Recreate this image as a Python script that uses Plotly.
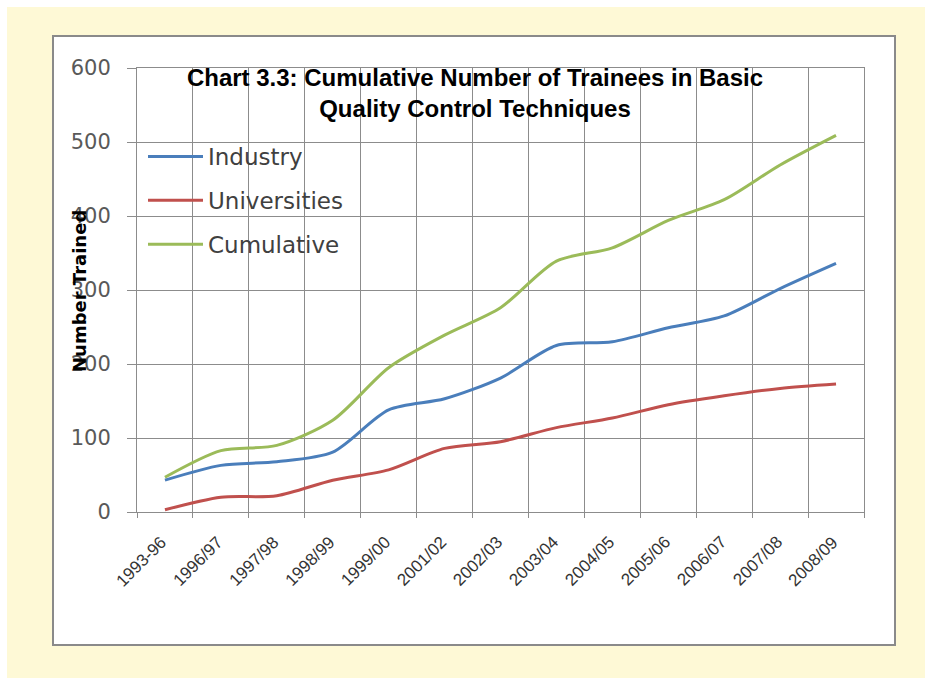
import plotly.graph_objects as go

# Financial years on the category axis
years = ["1993-96", "1996/97", "1997/98", "1998/99", "1999/00", "2001/02",
         "2002/03", "2003/04", "2004/05", "2005/06", "2006/07", "2007/08", "2008/09"]

# Cumulative number of trainees per group
industry = [43, 63, 68, 81, 138, 153, 181, 225, 230, 249, 265, 302, 336]
universities = [3, 20, 22, 43, 57, 86, 95, 114, 127, 145, 157, 167, 173]
cumulative = [47, 83, 90, 124, 195, 239, 276, 339, 357, 394, 422, 469, 509]

y_ticks = [0, 100, 200, 300, 400, 500, 600]

series = [
    ("Industry", industry, "#4A7EBB"),
    ("Universities", universities, "#C0504D"),
    ("Cumulative", cumulative, "#9BBB59"),
]

W, H = 925, 678
L, R, T, B = 137, 61, 68, 166
pw, ph = W - L - R, H - T - B


def px_x(x):
    return (x - L) / pw


def px_y(y):
    return (H - B - y) / ph


n = len(years)
pos = list(range(n))
x_range = [-0.5, n - 0.5]
# vertical grid sits between categories
boundaries = [i - 0.5 for i in range(n + 1)]

fig = go.Figure()
for name, vals, color in series:
    fig.add_trace(go.Scatter(
        x=pos, y=vals, name=name, mode="lines",
        line=dict(color=color, width=3, shape="spline", smoothing=0.8),
        legendgroup=name,
    ))

grid = "#8C8C8C"

fig.update_layout(
    width=W, height=H,
    margin=dict(l=L, r=R, t=T, b=B, pad=0),
    paper_bgcolor="#FFFFFF",
    plot_bgcolor="#FFFFFF",
    title=dict(
        text="Chart 3.3: Cumulative Number of Trainees in Basic<br>Quality Control Techniques",
        x=475 / W, xanchor="center", xref="container",
        y=1 - 86 / H, yanchor="middle", yref="container",
        font=dict(family="Liberation Sans", size=24, color="#000000", weight="bold"),
    ),
    showlegend=True,
    legend=dict(
        x=px_x(143), xanchor="left", y=px_y(135), yanchor="top",
        bgcolor="rgba(0,0,0,0)", borderwidth=0,
        font=dict(family="DejaVu Sans", size=23, color="#404040"),
        tracegroupgap=11, itemwidth=55,
    ),
    xaxis=dict(
        type="linear", range=x_range,
        tickvals=boundaries, ticktext=[""] * (n + 1),
        ticks="outside", ticklen=5, tickcolor=grid,
        showgrid=True, gridcolor=grid, gridwidth=1, zeroline=False,
        showline=True, linecolor=grid, linewidth=1, mirror=True,
    ),
    yaxis=dict(
        range=[0, 600], tickvals=y_ticks, ticks="outside", ticklen=9, tickcolor=grid,
        showgrid=True, gridcolor=grid, gridwidth=1,
        showline=True, linecolor=grid, linewidth=1, mirror=True,
        ticklabelstandoff=12, zeroline=False,
        tickfont=dict(family="DejaVu Sans", size=21, color="#595959"),
    ),
    shapes=[
        # cream page background
        dict(type="rect", xref="paper", yref="paper", layer="below",
             x0=px_x(7), x1=px_x(W + 5), y0=px_y(H + 5), y1=px_y(7),
             fillcolor="#FEF9D6", line=dict(width=0)),
        # white chart panel with grey frame
        dict(type="rect", xref="paper", yref="paper", layer="below",
             x0=px_x(53), x1=px_x(895), y0=px_y(645), y1=px_y(36),
             fillcolor="#FFFFFF", line=dict(color="#8A8A8A", width=2)),
    ],
    annotations=[
        dict(text="Number Trained", textangle=-90, showarrow=False,
             xref="paper", yref="paper", x=px_x(79), y=px_y(291),
             xanchor="center", yanchor="middle",
             font=dict(family="DejaVu Sans", size=18, color="#000000", weight="bold")),
    ] + [
        # slanted year labels under each category centre
        dict(text=yr, x=i, y=0, xref="x", yref="y", showarrow=False,
             textangle=-45, xanchor="right", yanchor="top", xshift=8, yshift=-18,
             font=dict(family="Liberation Sans", size=17, color="#333333"))
        for i, yr in enumerate(years)
    ],
)

fig.write_html("out.html")
